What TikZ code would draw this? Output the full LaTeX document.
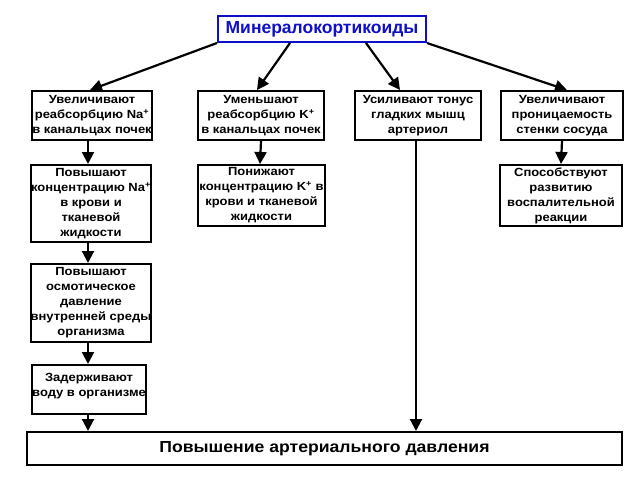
\documentclass[tikz,border=0pt]{standalone}
\usepackage{fontspec}
\setmainfont{Liberation Sans}
\newfontfamily\widefont[FakeStretch=1.1]{Liberation Sans}
\usepackage{tikz}
\usetikzlibrary{arrows.meta}
\definecolor{minblue}{RGB}{15,15,200}

\begin{document}
\begin{tikzpicture}[x=1pt,y=-1pt,
		box/.style={draw=black, line width=2pt, fill=white, align=center, inner sep=0pt, font=\widefont\fontsize{11.8}{15}\selectfont\bfseries},
		arr/.style={draw=black, line width=2.2pt, -{Triangle[length=12pt,width=12pt]}}]
				\useasboundingbox (0,0) rectangle (640,480);
				
				\node[draw=minblue, line width=2pt, fill=white, text=minblue, font=\fontsize{17.5}{19}\selectfont\bfseries, minimum width=208pt, minimum height=26pt, inner sep=0pt] (min) at (322,29) {Минералокортикоиды};
				
				\node[box, minimum width=120pt, minimum height=49pt] (na) at (92,115.5) {Увеличивают\\реабсорбцию Na\textsuperscript{+}\\в канальцах почек};
				\node[box, minimum width=126pt, minimum height=49pt] (k) at (261,115.5) {Уменьшают\\реабсорбцию K\textsuperscript{+}\\в канальцах почек};
				\node[box, minimum width=126pt, minimum height=49pt] (ton) at (418,115.5) {Усиливают тонус\\гладких мышц\\артериол};
				\node[box, minimum width=122pt, minimum height=49pt] (pron) at (562,115.5) {Увеличивают\\проницаемость\\стенки сосуда};
				
				\node[box, minimum width=118pt, minimum height=77pt] (nakr) at (91,203.5) {Повышают\\концентрацию Na\textsuperscript{+}\\в крови и\\тканевой\\жидкости};
				\node[box, minimum width=127pt, minimum height=61pt] (kkr) at (261.5,195.5) {Понижают\\концентрацию K\textsuperscript{+} в\\крови и тканевой\\жидкости};
				\node[box, minimum width=122pt, minimum height=61pt] (vosp) at (561,195.5) {Способствуют\\развитию\\воспалительной\\реакции};
				
				\node[box, minimum width=118pt, minimum height=78pt] (osm) at (91,303) {Повышают\\осмотическое\\давление\\внутренней среды\\организма};
				% text sits high in this box
				\node[box, minimum width=112pt, minimum height=49pt, anchor=north] (voda) at (89,364) {Задерживают\\воду в организме\\[-5pt]\mbox{}};
				
				\node[box, font=\widefont\fontsize{16}{18}\selectfont\bfseries, minimum width=595pt, minimum height=33pt] (ad) at (324.5,448.5) {Повышение артериального давления};
				
				% arrows from the top box
				\draw[arr] (min.south west) -- ([xshift=-2pt]na.north);
				\draw[arr] ([xshift=-32pt]min.south) -- ([xshift=-4pt]k.north);
				\draw[arr] ([xshift=44pt]min.south) -- ([xshift=-18pt]ton.north);
				\draw[arr] (min.south east) -- ([xshift=5pt]pron.north);
				
				% vertical arrows
				\draw[arr] ([xshift=-4pt]na.south) -- ([xshift=-3pt]nakr.north);
				\draw[arr] (k.south) -- ([xshift=-1.5pt]kkr.north);
				\draw[arr] (pron.south) -- (vosp.north);
				\draw[arr] ([xshift=-3pt]nakr.south) -- ([xshift=-3pt]osm.north);
				\draw[arr] ([xshift=-3pt]osm.south) -- ([xshift=-1pt]voda.north);
				\draw[arr] ([xshift=-1pt]voda.south) -- ([xshift=-1pt]voda.south |- ad.north);
				\draw[arr] ([xshift=-2pt]ton.south) -- ([xshift=-2pt]ton.south |- ad.north);
			\end{tikzpicture}
\end{document}
